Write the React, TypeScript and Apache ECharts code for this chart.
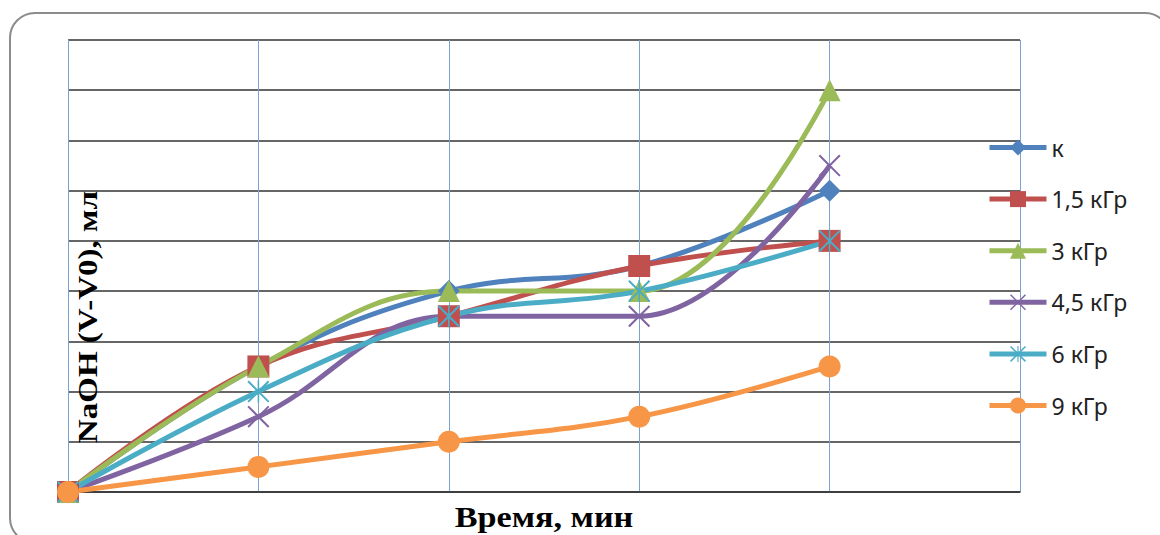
import React, { useEffect, useRef } from "react";
import * as echarts from "echarts";

const categories = ["0", "1", "2", "3", "4", ""];
const seriesNames = ["к", "1,5 кГр", "3 кГр", "4,5 кГр", "6 кГр", "9 кГр"];
const valK = [0, 2.5, 4, 4.5, 6];
const val15 = [0, 2.5, 3.5, 4.5, 5];
const val3 = [0, 2.5, 4, 4, 8];
const val45 = [0, 1.5, 3.5, 3.5, 6.5];
const val6 = [0, 2, 3.5, 4, 5];
const val9 = [0, 0.5, 1, 1.5, 2.5];
const colors = ["#4F81BD", "#C0504D", "#9BBB59", "#8064A2", "#4BACC6", "#F79646"];

const X_PATH =
  "path://M0,1.3 L1.3,0 L20,18.7 L18.7,20 Z M18.7,0 L20,1.3 L1.3,20 L0,18.7 Z";
const STAR_PATH =
  "path://M0,1.3 L1.3,0 L20,18.7 L18.7,20 Z M18.7,0 L20,1.3 L1.3,20 L0,18.7 Z M9.3,0 L10.7,0 L10.7,20 L9.3,20 Z";

export default function App() {
  const ref = useRef<HTMLDivElement>(null);
  useEffect(() => {
    if (!ref.current) return;
    const chart = echarts.init(ref.current, null, { renderer: "svg" });
    const data = [valK, val15, val3, val45, val6, val9];
    const symbols = ["diamond", "rect", "triangle", X_PATH, STAR_PATH, "circle"];
    const sizes = [22, 22, 22, 22, 22, 22];
    chart.setOption({
      animation: false,
      color: colors,
      grid: { left: 68, right: 140, top: 40, bottom: 43 },
      xAxis: {
        type: "category",
        data: categories,
        boundaryGap: false,
        axisLine: { show: true, lineStyle: { color: "#333", width: 1.5 } },
        axisTick: { show: false },
        axisLabel: { show: false },
        splitLine: { show: true, lineStyle: { color: "#7aa3d4", width: 1 } },
      },
      yAxis: {
        type: "value",
        min: 0,
        max: 9,
        interval: 1,
        axisLine: { show: true, lineStyle: { color: "#7aa3d4", width: 1 } },
        axisTick: { show: false },
        axisLabel: { show: false },
        splitLine: { show: true, lineStyle: { color: "#333", width: 1.5 } },
      },
      legend: {
        orient: "vertical",
        left: 982,
        top: 131,
        itemWidth: 57,
        itemHeight: 20,
        itemGap: 28.6,
        lineStyle: { width: 5 },
        textStyle: { fontFamily: "Noto Sans", fontSize: 23, color: "#222" },
        data: seriesNames,
      },
      series: seriesNames.map((name, i) => ({
        name,
        type: "line",
        data: data[i],
        smooth: 0.4,
        symbol: symbols[i],
        symbolSize: sizes[i],
        lineStyle: { width: 5, color: colors[i] },
        itemStyle: { color: colors[i] },
      })),
      graphic: [
        {
          type: "rect",
          shape: { x: 10, y: 13, width: 1160, height: 530, r: 25 },
          style: { fill: "none", stroke: "#8c8c8c", lineWidth: 2 },
          silent: true,
        },
        {
          type: "text",
          x: 88,
          y: 317,
          z: 100,
          rotation: Math.PI / 2,
          scaleX: 1.18,
          style: {
            text: "NaOH (V-V0), мл",
            font: "bold 28px 'Liberation Serif'",
            fill: "#000",
            align: "center",
            verticalAlign: "middle",
          },
        },
        {
          type: "text",
          x: 544,
          y: 517,
          scaleX: 1.14,
          style: {
            text: "Время, мин",
            font: "bold 30px 'Liberation Serif'",
            fill: "#000",
            align: "center",
            verticalAlign: "middle",
          },
        },
      ],
    });
    return () => chart.dispose();
  }, []);
  return (
    <div
      ref={ref}
      style={{ position: "fixed", left: 0, top: 0, width: 1160, height: 535, background: "#fff" }}
    />
  );
}
